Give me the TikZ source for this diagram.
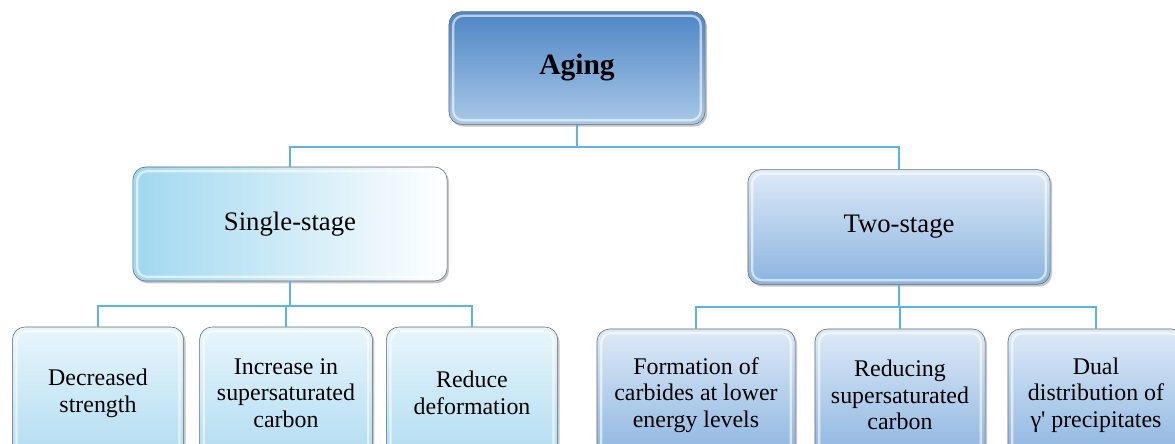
\documentclass[tikz,border=0pt]{standalone}
\usepackage{fontspec}
\setmainfont{Liberation Serif}
\usetikzlibrary{positioning,shadows}
\definecolor{agingtop}{RGB}{78,134,196}
\definecolor{agingbot}{RGB}{168,200,232}
\definecolor{cyanside}{RGB}{160,216,240}
\definecolor{cyantop}{RGB}{232,246,252}
\definecolor{cyanbot}{RGB}{176,220,241}
\definecolor{bluetop}{RGB}{222,234,247}
\definecolor{bluebot}{RGB}{138,180,224}
\definecolor{linkblue}{RGB}{90,180,228}
\definecolor{rim}{RGB}{95,105,115}

\begin{document}
\begin{tikzpicture}[
  x=0.025cm, y=-0.025cm,
  box/.style={draw=rim, rounded corners=9pt, align=center, inner sep=2pt,
    drop shadow={opacity=0.45, shadow xshift=1.4pt, shadow yshift=-1.6pt},
    path picture={\draw[white, opacity=0.6, line width=1.6pt, rounded corners=7pt]
      ([shift={(3pt,-3pt)}]path picture bounding box.north west) rectangle
      ([shift={(-3pt,3pt)}]path picture bounding box.south east);}},
  conn/.style={draw=linkblue, line width=1.4pt},
  leaf/.style={box, minimum height=3.3cm, font=\fontsize{17}{19}\selectfont},
]
\useasboundingbox (0,0) rectangle (1175,443);

% root
\node[box, top color=agingtop, bottom color=agingbot, minimum width=6.4cm, minimum height=2.82cm,
  font=\fontsize{21}{24}\selectfont\bfseries] (aging) at (577,68) {Aging};

% stages
\node[box, left color=cyanside, right color=white, minimum width=7.85cm, minimum height=2.85cm,
  font=\fontsize{19}{22}\selectfont] (single) at (290,224) {Single-stage};
\node[box, top color=bluetop, bottom color=bluebot, minimum width=7.55cm, minimum height=2.87cm,
  font=\fontsize{19}{22}\selectfont] (two) at (899,227) {Two-stage};

% effects of single-stage
\node[leaf, top color=cyantop, bottom color=cyanbot, minimum width=4.28cm] (decr) at (98,393) {Decreased\\strength};
\node[leaf, top color=cyantop, bottom color=cyanbot, minimum width=4.32cm] (incr) at (286,393) {Increase in\\supersaturated\\carbon};
\node[leaf, top color=cyantop, bottom color=cyanbot, minimum width=4.28cm] (defo) at (472,393) {Reduce\\deformation};

% effects of two-stage
\node[leaf, top color=bluetop, bottom color=bluebot, minimum width=4.95cm] (carb) at (696,395) {Formation of\\carbides at lower\\energy levels};
\node[leaf, top color=bluetop, bottom color=bluebot, minimum width=4.25cm] (redc) at (900,395) {Reducing\\supersaturated\\carbon};
\node[leaf, top color=bluetop, bottom color=bluebot, minimum width=4.4cm] (dual) at (1096,395) {Dual\\distribution of\\γ\textquotesingle{} precipitates};

% connectors
\coordinate (jtop) at (577,147);
\coordinate (jleft) at (290,306);
\coordinate (jright) at (899,307);
\draw[conn] (aging.south) -- (jtop) -| (single.north);
\draw[conn] (jtop) -| (two.north);
\draw[conn] (single.south) -- (jleft) -| (decr.north);
\draw[conn] (jleft) -| (incr.north);
\draw[conn] (jleft) -| (defo.north);
\draw[conn] (two.south) -- (jright) -| (carb.north);
\draw[conn] (jright) -| (redc.north);
\draw[conn] (jright) -| (dual.north);
\end{tikzpicture}
\end{document}
